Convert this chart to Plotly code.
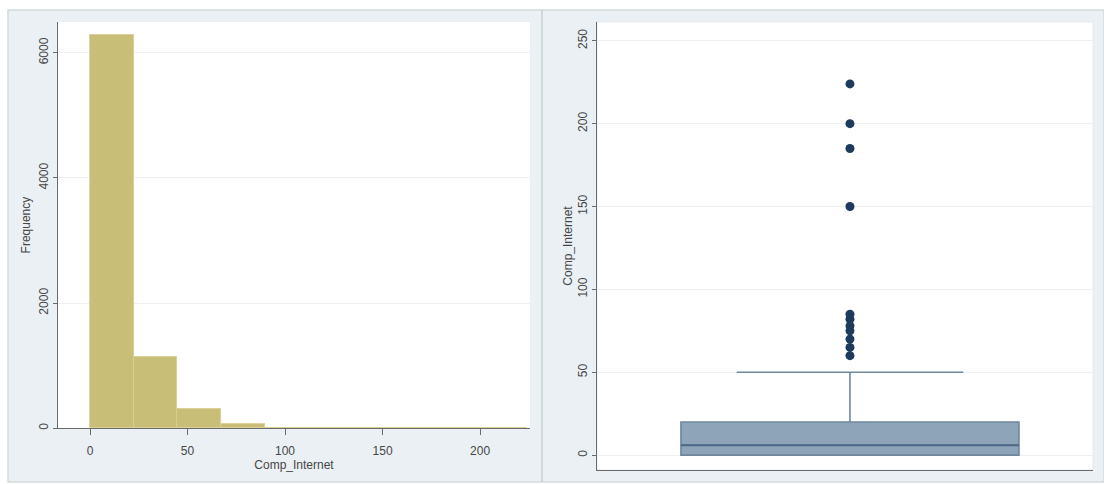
import plotly.graph_objects as go

# ---- data -------------------------------------------------------------
bin_width = 22.4
bin_starts = [0, 22.4, 44.8, 67.2, 89.6, 112.0, 134.4, 156.8, 179.2, 201.6]
bin_counts = [6290, 1143, 302, 63, 2, 1, 3, 1, 4, 3]

box_q1 = 0
box_median = 6
box_q3 = 20
box_lower = 0
box_upper = 50
outliers = [224, 200, 185, 150, 85, 82, 78, 75, 70, 65, 60]

hist_xticks = [0, 50, 100, 150, 200]
hist_yticks = [0, 2000, 4000, 6000]
box_yticks = [0, 50, 100, 150, 200, 250]

# ---- page geometry (pixels) -------------------------------------------
W, H = 1104, 484


def fx(px):
    return px / W


def fy(py):
    return 1 - py / H


FONT = dict(family="Liberation Sans, Arial, sans-serif", size=12, color="#474747")
PANEL_BG = "#EAF0F3"
GRID = "#EDF1F3"
AXIS = "#6b6b6b"

fig = go.Figure()

# histogram
fig.add_trace(go.Bar(
    x=bin_starts, y=bin_counts, width=bin_width, offset=0,
    marker=dict(color="#C9BE78", line=dict(color="#D8CE90", width=0.8)),
    xaxis="x", yaxis="y", showlegend=False,
))

# box plot (whiskers + box), median drawn darker on top
fig.add_trace(go.Box(
    x=[0], q1=[box_q1], median=[box_median], q3=[box_q3],
    lowerfence=[box_lower], upperfence=[box_upper],
    width=1.363, whiskerwidth=0.67, boxpoints=False,
    fillcolor="#8EA4B8", line=dict(color="#6F879C", width=1.6),
    xaxis="x2", yaxis="y2", showlegend=False,
))
fig.add_trace(go.Scatter(
    x=[-1.363 / 2, 1.363 / 2], y=[box_median, box_median], mode="lines",
    line=dict(color="#4C6A87", width=2),
    xaxis="x2", yaxis="y2", showlegend=False, hoverinfo="skip",
))
fig.add_trace(go.Scatter(
    x=[0] * len(outliers), y=outliers, mode="markers",
    marker=dict(color="#1E3A5C", size=9),
    xaxis="x2", yaxis="y2", showlegend=False,
))

shapes = [
    # graph region backgrounds
    dict(type="rect", xref="paper", yref="paper", x0=fx(8), x1=fx(1104), y0=fy(484), y1=fy(10),
         fillcolor=PANEL_BG, line=dict(color="#D3DADD", width=1.5), layer="below"),
    dict(type="line", xref="paper", yref="paper", x0=fx(542), x1=fx(542), y0=fy(484), y1=fy(10),
         line=dict(color="#C9D0D4", width=1.5), layer="below"),
    # plot regions
    dict(type="rect", xref="paper", yref="paper", x0=fx(58), x1=fx(530), y0=fy(430), y1=fy(22),
         fillcolor="white", line=dict(width=0), layer="below"),
    dict(type="rect", xref="paper", yref="paper", x0=fx(597), x1=fx(1093), y0=fy(472), y1=fy(22),
         fillcolor="white", line=dict(color="#E4EAED", width=1), layer="below"),
]

axis_common = dict(
    showline=True, linecolor=AXIS, linewidth=1, ticks="outside",
    tickcolor=AXIS, tickwidth=1, zeroline=False, tickfont=FONT,
)

fig.update_layout(
    width=W, height=H, margin=dict(l=0, r=0, t=0, b=0),
    paper_bgcolor="white", plot_bgcolor="white",
    font=FONT, shapes=shapes, bargap=0,
    xaxis=dict(
        domain=[fx(58), fx(530)], anchor="y", range=[-16.41, 225.6],
        tickvals=hist_xticks, showgrid=False, ticklen=6, ticklabelstandoff=5,
        title=dict(text="Comp_Internet", font=FONT, standoff=3),
        **axis_common,
    ),
    yaxis=dict(
        domain=[fy(430), fy(22)], anchor="x", range=[0, 6493],
        tickvals=hist_yticks, tickangle=-90, showgrid=True, gridcolor=GRID, ticklen=4,
        title=dict(text="Frequency", font=FONT, standoff=3),
        **axis_common,
    ),
    xaxis2=dict(
        domain=[fx(597), fx(1093)], anchor="y2", range=[-1.02, 0.98],
        showline=True, linecolor=AXIS, linewidth=1, showticklabels=False,
        ticks="", showgrid=False, zeroline=False,
    ),
    yaxis2=dict(
        domain=[fy(472), fy(22)], anchor="x2", range=[-9.01, 261.4],
        tickvals=box_yticks, tickangle=-90, showgrid=True, gridcolor=GRID, ticklen=4,
        title=dict(text="Comp_Internet", font=FONT, standoff=0),
        **axis_common,
    ),
)

fig.write_html("out.html")
